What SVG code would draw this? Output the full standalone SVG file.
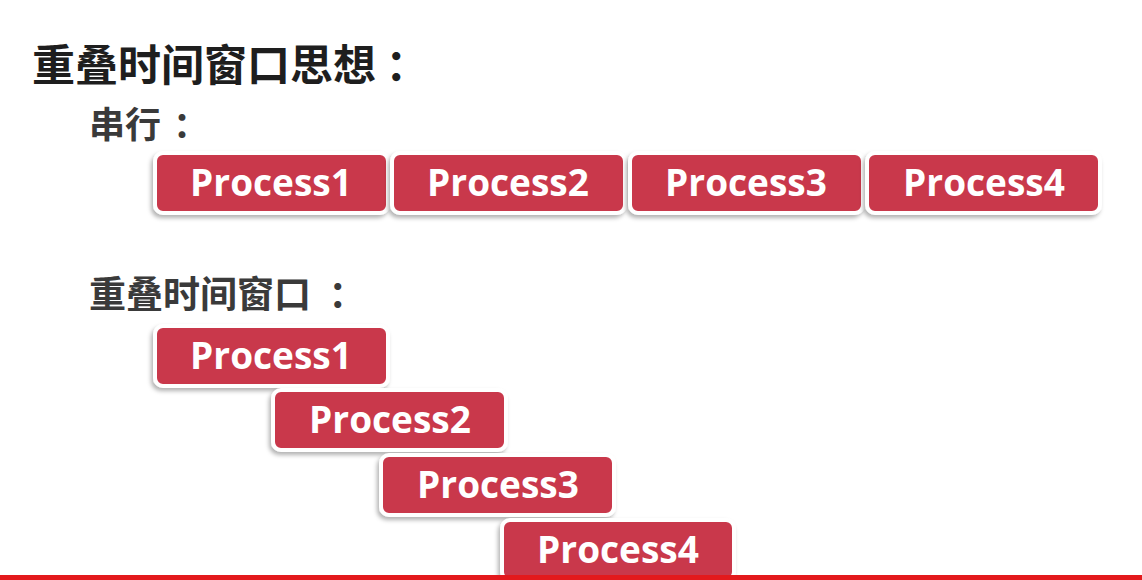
<svg xmlns="http://www.w3.org/2000/svg" width="1142" height="580" viewBox="0 0 1142 580">
<defs>
<filter id="sh" x="-10%" y="-20%" width="120%" height="150%">
<feDropShadow dx="-2" dy="3" stdDeviation="2" flood-color="#000" flood-opacity="0.3"/>
</filter>
</defs>
<style>
.box{fill:#c9394b;stroke:#fff;stroke-width:4;filter:url(#sh)}
.lbl{font-family:"Open Sans","Liberation Sans",sans-serif;font-weight:bold;font-size:37px;fill:#fff;text-anchor:middle}
.h1{font-family:"Noto Sans CJK SC",sans-serif;font-weight:bold;font-size:43px;fill:#1e1e1e}
.h2{font-family:"Noto Sans CJK SC",sans-serif;font-weight:bold;font-size:36px;fill:#3a3a3a}
.h3{font-family:"Noto Sans CJK SC",sans-serif;font-weight:bold;font-size:37px;fill:#3a3a3a}
.c{text-anchor:middle}
</style>
<rect width="1142" height="580" fill="#fff"/>
<text class="h1" x="32" y="81">重叠时间窗口思想</text>
<text class="h1 c" x="407" y="81">：</text>
<text class="h2" x="89" y="138">串行</text>
<text class="h2 c" x="191" y="138">：</text>
<text class="h3" x="89" y="308">重叠时间窗口</text>
<text class="h3 c" x="347" y="308">：</text>
<g id="s1"><rect class="box" x="155" y="153" width="233" height="60" rx="8"/><text class="lbl" x="271" y="196">Process1</text></g>
<g id="s2"><rect class="box" x="392" y="153" width="233" height="60" rx="8"/><text class="lbl" x="508" y="196">Process2</text></g>
<g id="s3"><rect class="box" x="630" y="153" width="233" height="60" rx="8"/><text class="lbl" x="746" y="196">Process3</text></g>
<g id="s4"><rect class="box" x="867" y="153" width="233" height="60" rx="8"/><text class="lbl" x="984" y="196">Process4</text></g>
<g id="o1"><rect class="box" x="155" y="326" width="233" height="60" rx="8"/><text class="lbl" x="271" y="369">Process1</text></g>
<g id="o2"><rect class="box" x="273" y="390" width="233" height="60" rx="8"/><text class="lbl" x="390" y="433">Process2</text></g>
<g id="o3"><rect class="box" x="381" y="455" width="233" height="60" rx="8"/><text class="lbl" x="498" y="498">Process3</text></g>
<g id="o4"><rect class="box" x="502" y="520" width="232" height="60" rx="8"/><text class="lbl" x="618" y="563">Process4</text></g>
<g id="connectors"></g>
<rect x="0" y="575" width="1142" height="5" fill="#e3191c"/>
</svg>
